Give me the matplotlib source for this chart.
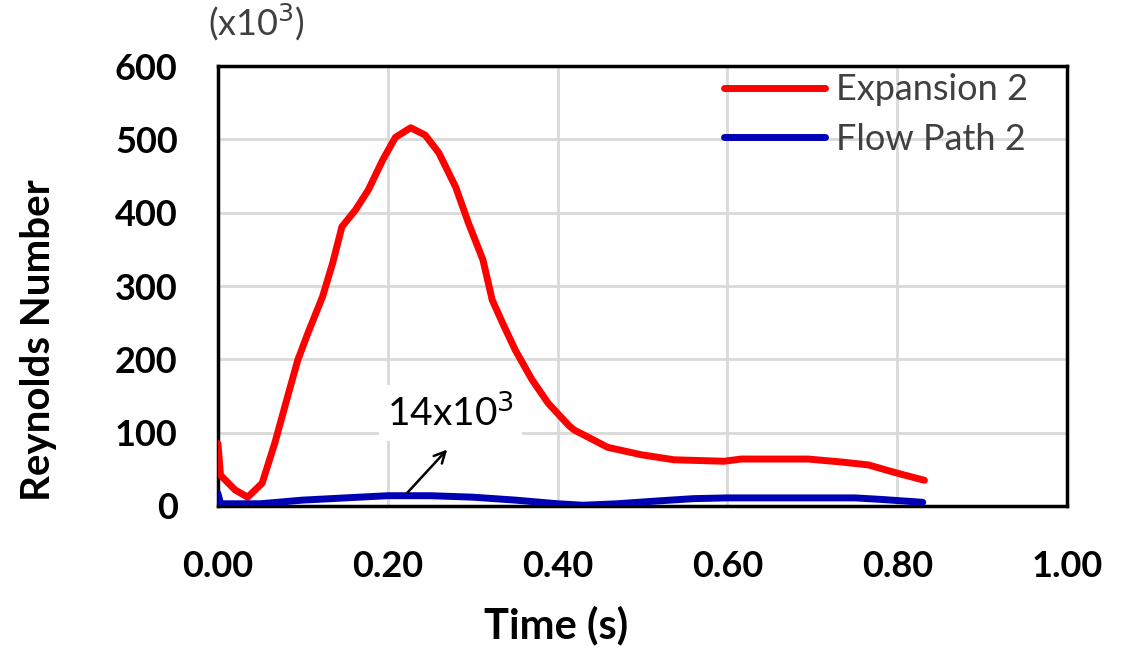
import matplotlib
matplotlib.use("Agg")
import matplotlib.pyplot as plt

# Reynolds number (x10^3) vs time
exp_t = [0.0, 0.003, 0.020, 0.035, 0.052, 0.067, 0.081, 0.094, 0.106, 0.123, 0.135,
         0.146, 0.162, 0.177, 0.194, 0.209, 0.227, 0.244, 0.260, 0.280, 0.295, 0.312,
         0.323, 0.335, 0.350, 0.370, 0.389, 0.413, 0.419, 0.459, 0.498, 0.537, 0.596,
         0.616, 0.695, 0.734, 0.766, 0.796, 0.832]
exp_re = [85, 42, 22, 12, 31, 86, 145, 199, 236, 285, 331,
          381, 404, 431, 472, 503, 516, 506, 482, 435, 386, 336,
          281, 250, 213, 172, 140, 110, 104, 80, 70, 63, 61,
          64, 64, 60, 56, 46, 35]

flow_t = [0.0, 0.003, 0.05, 0.07, 0.10, 0.15, 0.20, 0.25, 0.30, 0.35, 0.40, 0.43,
          0.47, 0.52, 0.56, 0.60, 0.75, 0.78, 0.83]
flow_re = [17, 3, 3, 5, 8, 11, 14, 14, 12, 8, 3, 1,
           3, 7, 10, 11, 11, 9, 5]

xticks = [0.0, 0.2, 0.4, 0.6, 0.8, 1.0]
yticks = [0, 100, 200, 300, 400, 500, 600]

plt.rcParams['font.family'] = ['Lato', 'DejaVu Sans']

fig = plt.figure(figsize=(11.34, 6.49), dpi=100)
ax = fig.add_axes([0.1922, 0.2204, 0.7488, 0.6776])

ax.plot(exp_t, exp_re, color='#ff0000', lw=5, label='Expansion 2', solid_capstyle='round', zorder=3)
ax.plot(flow_t, flow_re, color='#0000b4', lw=5, label='Flow Path 2', solid_capstyle='round', zorder=3)

ax.set_xlim(0, 1.0)
ax.set_ylim(0, 600)
ax.set_xticks(xticks)
ax.set_yticks(yticks)
ax.set_xticklabels(['%.2f' % v for v in xticks])
ax.tick_params(length=0, labelsize=26)
ax.tick_params(axis='y', pad=29)
ax.tick_params(axis='x', pad=32)
for lab in ax.get_xticklabels() + ax.get_yticklabels():
    lab.set_fontweight('bold')

ax.grid(True, color='#d9d9d9', lw=2, zorder=0)
ax.set_axisbelow(True)
for s in ax.spines.values():
    s.set_linewidth(2.5)
    s.set_color('black')

fig.text(556 / 1134, 1 - 625 / 649, 'Time (s)', fontsize=30, fontweight='bold',
         ha='center', va='center')
fig.text(39 / 1134, 1 - 340 / 649, 'Reynolds Number', fontsize=29, fontweight='bold',
         ha='center', va='center', rotation=90)

fig.text(256 / 1134, 1 - 22 / 649, '(x10$^3$)', fontsize=26, color='#404040',
         ha='center', va='center')

ax.annotate('', xy=(0.270, 77), xytext=(0.223, 18),
            arrowprops=dict(arrowstyle='->', color='black', lw=1.8, mutation_scale=20,
                            shrinkA=0, shrinkB=0), zorder=4)
ax.text(0.274, 127, '14x10$^3$', fontsize=28, ha='center', va='center',
        bbox=dict(facecolor='white', edgecolor='none', pad=6), zorder=4)

leg = ax.legend(loc='upper right', frameon=False, fontsize=26, handlelength=2.8,
                handletextpad=0.3, labelspacing=0.45, borderaxespad=0.1,
                bbox_to_anchor=(0.975, 1.025))
for t in leg.get_texts():
    t.set_color('#404040')

fig.savefig('out.png', dpi=100)
